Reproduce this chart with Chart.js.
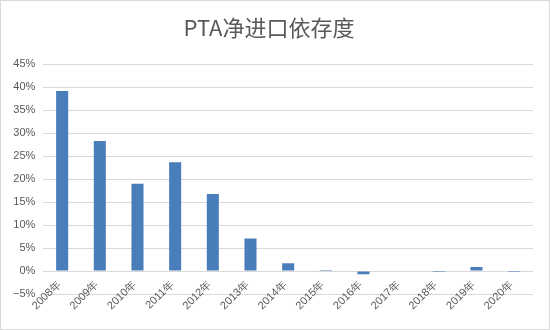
<!DOCTYPE html>
<html>
<head>
<meta charset="utf-8">
<script src="https://cdn.jsdelivr.net/npm/chart.js@4.4.1/dist/chart.umd.min.js"></script>
<style>
    body { margin: 0; background: #fff; }
    #wrap { width: 550px; height: 330px; box-sizing: border-box; border: 1px solid #d9d9d9; position: relative; }
</style>
</head>
<body>
<div id="wrap">
    <canvas id="grafico-pta"></canvas>
</div>
<script>
    const categorias = ['2008年', '2009年', '2010年', '2011年', '2012年', '2013年', '2014年',
        '2015年', '2016年', '2017年', '2018年', '2019年', '2020年'];
    const dependencia = [39.2, 28.3, 19.0, 23.7, 16.8, 7.1, 1.7, 0.2, -0.7, 0, -0.2, 0.9, -0.2];
    const ejeY = { min: -5, max: 45, paso: 5 };
    const titulo = 'PTA净进口依存度';

    const ctx = document.getElementById('grafico-pta');

    new Chart(ctx, {
        type: 'bar',
        data: {
            labels: categorias,
            datasets: [{
                label: titulo,
                data: dependencia,
                backgroundColor: '#4a7ebb',
                barPercentage: 0.32,
                categoryPercentage: 1
            }]
        },
        options: {
            responsive: true,
            maintainAspectRatio: false,
            animation: false,
            layout: { padding: { left: 4, right: 16, top: 0, bottom: 35 } },
            plugins: {
                legend: { display: false },
                tooltip: { enabled: false },
                title: {
                    display: true,
                    text: titulo,
                    color: '#595959',
                    font: { family: '"Noto Sans CJK SC", sans-serif', size: 22, weight: 'normal' },
                    padding: { top: 13, bottom: 24 }
                }
            },
            scales: {
                x: {
                    // eje de categorias cruza en 0, como en Excel
                    position: { y: 0 },
                    grid: { display: false, drawTicks: false },
                    border: { display: false },
                    ticks: {
                        color: '#595959',
                        font: { family: '"Liberation Sans", Arial, sans-serif', size: 11 },
                        minRotation: 45,
                        maxRotation: 45,
                        padding: 7,
                        labelOffset: -3,
                        autoSkip: false
                    }
                },
                y: {
                    min: ejeY.min,
                    max: ejeY.max,
                    grid: { color: '#d9d9d9', drawTicks: false },
                    border: { display: false },
                    ticks: {
                        stepSize: ejeY.paso,
                        color: '#595959',
                        padding: 8,
                        font: { family: '"Liberation Sans", Arial, sans-serif', size: 11 },
                        callback: (v) => String(v).replace('-', '\u2212') + '%'
                    }
                }
            }
        }
    });
</script>
</body>
</html>
